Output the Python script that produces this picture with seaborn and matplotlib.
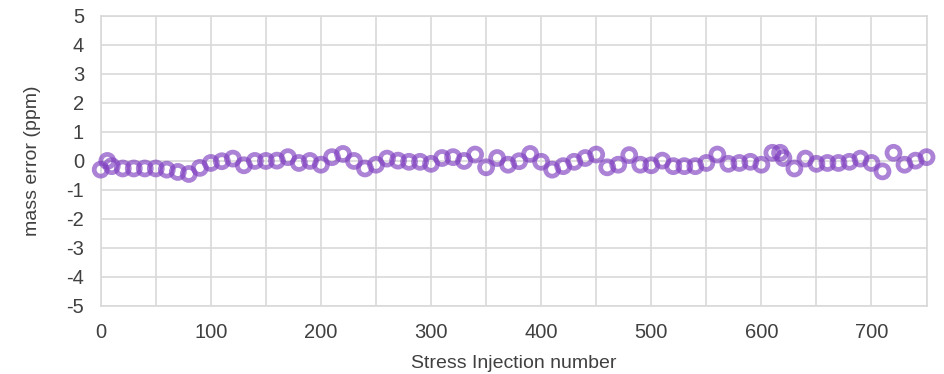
import matplotlib
matplotlib.use("Agg")
import matplotlib.pyplot as plt
import seaborn as sns

# data
injection = [0, 6, 10, 20, 30, 40, 50, 60, 70, 80,
             90, 100, 110, 120, 130, 140, 150, 160, 170, 180,
             190, 200, 210, 220, 230, 240, 250, 260, 270, 280,
             290, 300, 310, 320, 330, 340, 350, 360, 370, 380,
             390, 400, 410, 420, 430, 440, 450, 460, 470, 480,
             490, 500, 510, 520, 530, 540, 550, 560, 570, 580,
             590, 600, 610, 617, 620, 630, 640, 650, 660, 670,
             680, 690, 700, 710, 720, 730, 740, 750]
mass_error = [-0.30, 0.00, -0.18, -0.26, -0.26, -0.26, -0.26, -0.30, -0.38, -0.45,
              -0.24, -0.07, -0.01, 0.08, -0.15, 0.00, 0.00, 0.01, 0.13, -0.07,
              0.00, -0.13, 0.13, 0.24, 0.00, -0.26, -0.13, 0.08, 0.01, -0.03,
              -0.03, -0.10, 0.10, 0.13, 0.00, 0.22, -0.22, 0.10, -0.13, -0.01,
              0.24, -0.03, -0.30, -0.18, -0.03, 0.10, 0.22, -0.22, -0.13, 0.20,
              -0.13, -0.15, 0.01, -0.18, -0.18, -0.18, -0.07, 0.22, -0.10, -0.07,
              -0.03, -0.13, 0.28, 0.28, 0.10, -0.26, 0.08, -0.10, -0.07, -0.07,
              -0.03, 0.08, -0.07, -0.36, 0.28, -0.13, 0.01, 0.13]

x_ticks = list(range(0, 751, 50))
x_labels = [str(t) if t % 100 == 0 else "" for t in x_ticks]
y_ticks = list(range(-5, 6))

PURPLE = "#7F3FBF"
GRID = "#D9D9D9"
TEXT = "#404040"

sns.set_theme(style="white")
plt.rcParams["font.family"] = ["Liberation Sans", "DejaVu Sans"]
plt.rcParams["axes.unicode_minus"] = False

fig = plt.figure(figsize=(9.44, 3.74), dpi=100)
ax = fig.add_axes([0.1067, 0.182, 0.8748, 0.7754])

sns.scatterplot(x=injection, y=mass_error, ax=ax, marker="o", s=88,
                facecolor="none", edgecolor=PURPLE, linewidth=3.4,
                alpha=0.65, clip_on=False, zorder=3, legend=False)

ax.set_xlim(0, 750)
ax.set_ylim(-5, 5)
ax.set_xticks(x_ticks)
ax.set_xticklabels(x_labels)
ax.set_yticks(y_ticks)
ax.grid(True, color=GRID, linewidth=1.2)
ax.set_axisbelow(True)
for sp in ax.spines.values():
    sp.set_color(GRID)
    sp.set_linewidth(1.2)

ax.tick_params(axis="both", length=0, labelsize=14.5, labelcolor=TEXT)
ax.tick_params(axis="x", pad=12)
ax.tick_params(axis="y", pad=12)

ax.set_xlabel("Stress Injection number", fontsize=14, color=TEXT)
ax.set_ylabel("mass error (ppm)", fontsize=14, color=TEXT)
ax.xaxis.label.set_va("center")
ax.yaxis.label.set_va("center")
ax.xaxis.set_label_coords(0.5, -0.197)
ax.yaxis.set_label_coords(-0.083, 0.5)

fig.savefig("out.png", dpi=100)
